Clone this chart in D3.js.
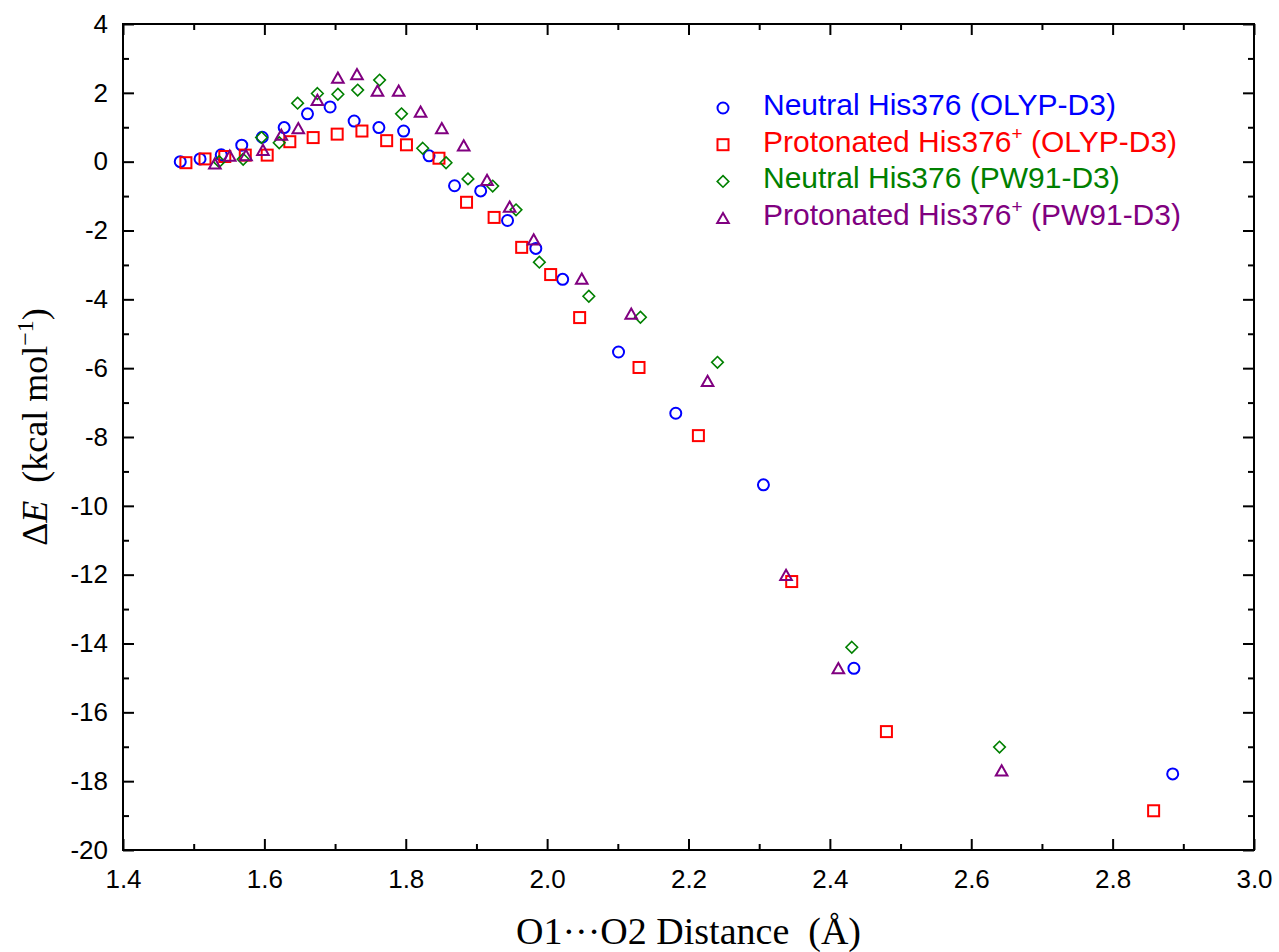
<!DOCTYPE html>
<html>
<head>
<meta charset="utf-8">
<script src="https://cdn.jsdelivr.net/npm/d3@7"></script>
<style>
  body { margin: 0; background: #fff; }
  text { white-space: pre; }
</style>
</head>
<body>
<div id="canvas"></div>
<script>
// O1...O2 distance (Angstrom) and relative energy (kcal/mol) per series
const neutralOlypX = [1.481, 1.509, 1.539, 1.568, 1.597, 1.628, 1.661, 1.693, 1.727, 1.762, 1.797, 1.833, 1.869, 1.906, 1.944, 1.984, 2.022, 2.101, 2.182, 2.306, 2.434, 2.885];
const neutralOlypY = [0.00, 0.08, 0.20, 0.48, 0.71, 0.99, 1.39, 1.59, 1.18, 0.99, 0.89, 0.17, -0.70, -0.85, -1.71, -2.52, -3.42, -5.53, -7.31, -9.39, -14.72, -17.79];

const protOlypX = [1.489, 1.516, 1.544, 1.573, 1.604, 1.636, 1.669, 1.703, 1.738, 1.773, 1.801, 1.847, 1.886, 1.925, 1.964, 2.005, 2.046, 2.130, 2.214, 2.346, 2.480, 2.858];
const protOlypY = [-0.03, 0.08, 0.15, 0.19, 0.19, 0.58, 0.70, 0.80, 0.89, 0.61, 0.49, 0.10, -1.18, -1.62, -2.49, -3.28, -4.53, -5.98, -7.96, -12.20, -16.56, -18.86];

const neutralPwX = [1.536, 1.570, 1.596, 1.621, 1.647, 1.675, 1.704, 1.732, 1.763, 1.794, 1.824, 1.857, 1.888, 1.923, 1.956, 1.989, 2.059, 2.132, 2.241, 2.431, 2.640];
const neutralPwY = [0.00, 0.07, 0.70, 0.55, 1.70, 1.98, 1.96, 2.08, 2.37, 1.39, 0.39, -0.03, -0.50, -0.71, -1.40, -2.92, -3.91, -4.52, -5.83, -14.11, -17.01];

const protPwX = [1.530, 1.551, 1.574, 1.598, 1.624, 1.648, 1.675, 1.704, 1.731, 1.760, 1.790, 1.821, 1.851, 1.882, 1.915, 1.947, 1.981, 2.049, 2.119, 2.227, 2.338, 2.412, 2.643];
const protPwY = [-0.05, 0.17, 0.19, 0.34, 0.78, 0.97, 1.79, 2.44, 2.54, 2.06, 2.06, 1.45, 0.97, 0.47, -0.53, -1.31, -2.26, -3.40, -4.42, -6.37, -12.01, -14.72, -17.69];

const xTicks = [1.4, 1.6, 1.8, 2.0, 2.2, 2.4, 2.6, 2.8, 3.0];
const yTicks = [-20, -18, -16, -14, -12, -10, -8, -6, -4, -2, 0, 2, 4];

const series = [
  { name: "Neutral His376", sup: "", method: "(OLYP-D3)", shape: "circle", color: "#0000ff", xs: neutralOlypX, ys: neutralOlypY },
  { name: "Protonated His376", sup: "+", method: "(OLYP-D3)", shape: "square", color: "#ff0000", xs: protOlypX, ys: protOlypY },
  { name: "Neutral His376", sup: "", method: "(PW91-D3)", shape: "diamond", color: "#008000", xs: neutralPwX, ys: neutralPwY },
  { name: "Protonated His376", sup: "+", method: "(PW91-D3)", shape: "triangle", color: "#800080", xs: protPwX, ys: protPwY }
];

const width = 1279;
const height = 952;
const margin = { top: 24, left: 123, bottom: 102, right: 25 };

const svg = d3.select("#canvas").append("svg")
  .attr("width", width)
  .attr("height", height);

const x = d3.scaleLinear().domain([1.4, 3.0]).range([margin.left, width - margin.right]);
const y = d3.scaleLinear().domain([-20, 4]).range([height - margin.bottom, margin.top]);

const sans = "'Liberation Sans', Arial, sans-serif";
const serif = "'Liberation Serif', 'Times New Roman', serif";

// marker shapes
function marker(sel, shape, color) {
  if (shape === "circle") {
    sel.append("circle").attr("r", 5.5);
  } else if (shape === "square") {
    sel.append("rect").attr("x", -5.5).attr("y", -5.5).attr("width", 11).attr("height", 11);
  } else if (shape === "diamond") {
    sel.append("path").attr("d", "M0,-5.8L5.8,0L0,5.8L-5.8,0Z").attr("stroke-width", 1.6);
  } else {
    sel.append("path").attr("d", "M0,-5.2L5.8,5L-5.8,5Z");
  }
  sel.selectAll("*").attr("fill", "none").attr("stroke", color)
    .filter(function () { return !this.getAttribute("stroke-width"); })
    .attr("stroke-width", 2);
}

// axes: major and minor ticks pointing inward on all four sides
const minorX = d3.range(1.5, 3.0, 0.2);
const minorY = d3.range(-19, 4, 2);

function styleAxis(g) {
  g.select(".domain").remove();
  g.selectAll(".tick line").attr("stroke", "#000").attr("stroke-width", 2);
  g.selectAll("text").attr("font-family", sans).attr("font-size", 26).attr("fill", "#000");
}

svg.append("g").attr("transform", `translate(0,${y(-20)})`)
  .call(d3.axisBottom(x).tickValues(xTicks).tickFormat(d3.format(".1f")).tickSize(-11).tickPadding(20))
  .call(styleAxis);
svg.append("g").attr("transform", `translate(0,${y(-20)})`)
  .call(d3.axisBottom(x).tickValues(minorX).tickFormat("").tickSize(-6))
  .call(styleAxis);
svg.append("g").attr("transform", `translate(0,${y(4)})`)
  .call(d3.axisTop(x).tickValues(xTicks).tickFormat("").tickSize(-11))
  .call(styleAxis);
svg.append("g").attr("transform", `translate(0,${y(4)})`)
  .call(d3.axisTop(x).tickValues(minorX).tickFormat("").tickSize(-6))
  .call(styleAxis);

svg.append("g").attr("transform", `translate(${x(1.4)},0)`)
  .call(d3.axisLeft(y).tickValues(yTicks).tickFormat(d => String(d)).tickSize(-11).tickPadding(15))
  .call(styleAxis);
svg.append("g").attr("transform", `translate(${x(1.4)},0)`)
  .call(d3.axisLeft(y).tickValues(minorY).tickFormat("").tickSize(-6))
  .call(styleAxis);
svg.append("g").attr("transform", `translate(${x(3.0)},0)`)
  .call(d3.axisRight(y).tickValues(yTicks).tickFormat("").tickSize(-11))
  .call(styleAxis);
svg.append("g").attr("transform", `translate(${x(3.0)},0)`)
  .call(d3.axisRight(y).tickValues(minorY).tickFormat("").tickSize(-6))
  .call(styleAxis);

svg.append("rect")
  .attr("x", x(1.4)).attr("y", y(4))
  .attr("width", x(3.0) - x(1.4)).attr("height", y(-20) - y(4))
  .attr("fill", "none").attr("stroke", "#000").attr("stroke-width", 2);

// points
series.forEach(s => {
  const pts = s.xs.map((v, i) => [v, s.ys[i]]);
  svg.append("g").selectAll("g").data(pts).enter().append("g")
    .attr("transform", d => `translate(${x(d[0])},${y(d[1])})`)
    .each(function () { marker(d3.select(this), s.shape, s.color); });
});

// legend
const legend = svg.append("g");
series.forEach((s, i) => {
  const ry = 108 + i * 36.7;
  marker(legend.append("g").attr("transform", `translate(723,${ry})`), s.shape, s.color);
  const t = legend.append("text")
    .attr("x", 763).attr("y", ry + 7)
    .attr("font-family", sans).attr("font-size", 30).attr("fill", s.color);
  t.append("tspan").text(s.name);
  if (s.sup) {
    t.append("tspan").attr("font-size", 19).attr("dy", -12).text(s.sup);
    t.append("tspan").attr("dy", 12).text(" " + s.method);
  } else {
    t.append("tspan").text(" " + s.method);
  }
});

// axis titles
svg.append("text")
  .attr("x", (x(1.4) + x(3.0)) / 2).attr("y", 944)
  .attr("text-anchor", "middle")
  .attr("font-family", serif).attr("font-size", 38)
  .text("O1\u00b7\u00b7\u00b7O2 Distance  (\u00c5)");

const yt = svg.append("text")
  .attr("transform", "translate(47,427) rotate(-90)")
  .attr("text-anchor", "middle")
  .attr("font-family", serif).attr("font-size", 36);
yt.append("tspan").text("\u0394");
yt.append("tspan").attr("font-style", "italic").text("E");
yt.append("tspan").text("  (kcal mol");
yt.append("tspan").attr("font-size", 24).attr("dy", -14).text("\u22121");
yt.append("tspan").attr("dy", 14).text(")");
</script>
</body>
</html>
